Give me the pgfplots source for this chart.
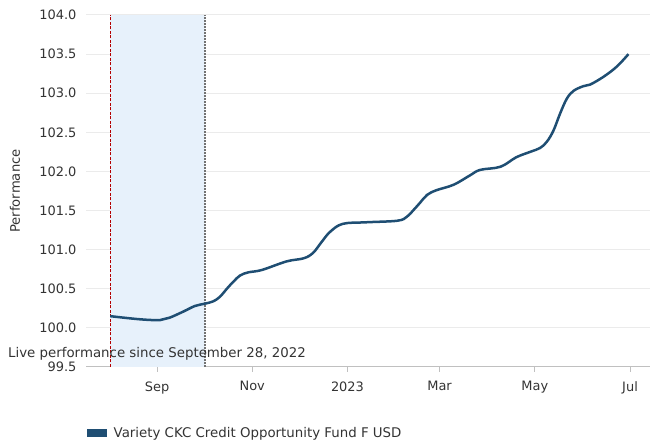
\documentclass[border=0pt]{standalone}
\usepackage{pgfplots}
\pgfplotsset{compat=1.18}
\usepackage{fontspec}
\setmainfont{DejaVu Sans}
\definecolor{lineblue}{HTML}{1F4E73}
\definecolor{gridgray}{HTML}{EBEBEB}
\definecolor{axisgray}{HTML}{C0C0C0}
\definecolor{shadeblue}{HTML}{E7F1FB}
\definecolor{txt}{HTML}{333333}
\definecolor{dred}{HTML}{B40000}
\begin{document}
\begin{tikzpicture}[x=1bp,y=1bp]
\useasboundingbox (0,0) rectangle (650,443);
\begin{axis}[
  at={(86bp,76bp)}, anchor=south west, scale only axis,
  width=564bp, height=352bp,
  xmin=-45.5, xmax=315.8, ymin=99.5, ymax=104,
  ytick={99.5,100,100.5,101,101.5,102,102.5,103,103.5,104},
  y tick label style={/pgf/number format/fixed, /pgf/number format/fixed zerofill, /pgf/number format/precision=1},
  /pgf/number format/assume math mode=true,
  axis x line*=bottom, axis y line*=left,
  y axis line style={draw=none},
  x axis line style={draw=axisgray, line width=1bp, -},
  ytick style={draw=none},
  xtick style={draw=axisgray, line width=1bp},
  xtick align=outside, major tick length=5bp,
  ymajorgrids, grid style={color=gridgray, line width=1bp},
  xtick={0,61,122,181,242,303},
  xticklabels={Sep,Nov,2023,Mar,May,Jul},
  tick label style={font=\fontsize{13}{15}\selectfont, text=txt},
  xticklabel style={yshift=-6bp},
  yticklabel style={xshift=-6bp},
  ylabel={Performance},
  ylabel style={at={(axis description cs:-0.1259,0.5)}, anchor=center, font=\fontsize{13.2}{15}\selectfont, text=txt},
  legend style={at={(axis description cs:0,0)}, anchor=west, yshift=-66bp, xshift=-2bp, draw=none, fill=none,
    font=\fontsize{13.4}{15}\selectfont, text=txt},
  legend image code/.code={\fill[lineblue] (0bp,-3bp) rectangle (17bp,3bp);},
  legend style={/tikz/every odd column/.append style={column sep=0bp}},
  legend cell align=left,
]
\fill[shadeblue] (axis cs:-30,99.5) rectangle (axis cs:30.7,104);
\draw[dred, dash pattern=on 3bp off 1.5bp, line width=1.2bp] (axis cs:-30,99.5) -- (axis cs:-30,104);
\draw[black!55, dash pattern=on 1.5bp off 1.5bp, line width=1.2bp] (axis cs:30.7,99.5) -- (axis cs:30.7,104);
\addplot[lineblue, line width=2.5bp, smooth, tension=0.6] coordinates {
(-30,100.15) (-11,100.11) (2,100.10) (8,100.13) (17,100.21) (24.3,100.28) (30.7,100.31)
(36.1,100.34) (40.4,100.40) (44.7,100.50) (48.9,100.59) (53.2,100.67) (58.5,100.71) (67.1,100.74)
(83,100.85) (94,100.89) (100,100.96) (105.5,101.10) (111,101.23) (119,101.33) (134,101.35)
(154,101.37) (160,101.42) (164,101.50) (168.5,101.60) (173,101.70) (179,101.76) (190,101.83)
(200.5,101.95) (207,102.02) (220,102.06) (230,102.18) (239,102.25) (245.4,102.30) (249.7,102.38)
(253.9,102.52) (258.2,102.74) (262.5,102.93) (266.8,103.03) (273.1,103.09) (277.4,103.11)
(286,103.21) (294.5,103.34) (302,103.50)
};
\addlegendentry{\hspace{5bp}Variety CKC Credit Opportunity Fund F USD}
\end{axis}
\node[anchor=west, inner sep=0, text=txt, font=\fontsize{13.4}{15}\selectfont] at (8,89) {Live performance since September 28, 2022};
\end{tikzpicture}
\end{document}
